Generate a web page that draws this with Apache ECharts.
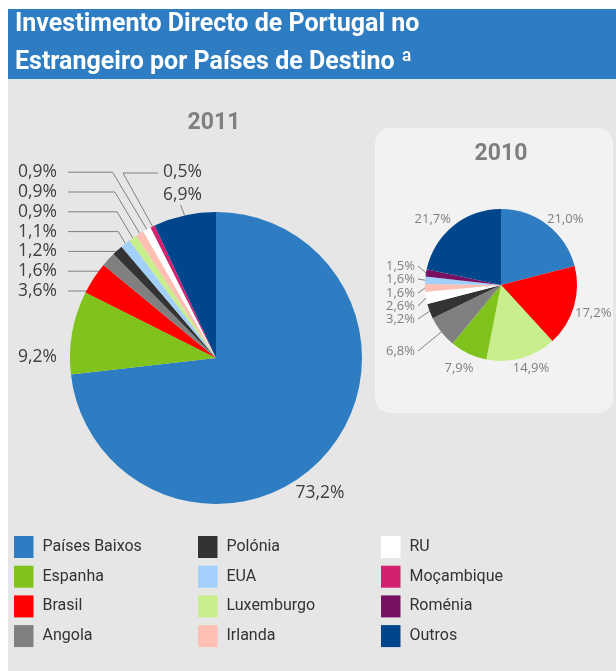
<!DOCTYPE html>
<html>
<head>
<meta charset="utf-8">
<script src="https://cdn.jsdelivr.net/npm/echarts@6/dist/echarts.min.js"></script>
<style>
  html, body { margin: 0; padding: 0; background: #fff; }
  #chart { width: 616px; height: 671px; }
</style>
</head>
<body>
<div id="chart"></div>
<script>
// data
const names2011 = ['Países Baixos', 'Espanha', 'Brasil', 'Angola', 'Polónia', 'EUA',
    'Luxemburgo', 'Irlanda', 'RU', 'Moçambique', 'Outros'];
const values2011 = [73.2, 9.2, 3.6, 1.6, 1.2, 1.1, 0.9, 0.9, 0.9, 0.5, 6.9];

const names2010 = ['Países Baixos', 'Brasil', 'Luxemburgo', 'Espanha', 'Angola', 'Polónia',
    'RU', 'Irlanda', 'EUA', 'Roménia', 'Outros'];
const values2010 = [21.0, 17.2, 14.9, 7.9, 6.8, 3.2, 2.6, 1.6, 1.6, 1.5, 21.7];

const legendCol1 = ['Países Baixos', 'Espanha', 'Brasil', 'Angola'];
const legendCol2 = ['Polónia', 'EUA', 'Luxemburgo', 'Irlanda'];
const legendCol3 = ['RU', 'Moçambique', 'Roménia', 'Outros'];

// styles
const colors = {
    'Países Baixos': '#2e7cc2',
    'Espanha': '#7fc31c',
    'Brasil': '#ff0000',
    'Angola': '#808080',
    'Polónia': '#333333',
    'EUA': '#a3d0fb',
    'Luxemburgo': '#c8ef8c',
    'Irlanda': '#ffbfb3',
    'RU': '#ffffff',
    'Moçambique': '#d4216f',
    'Roménia': '#781164',
    'Outros': '#00468c'
};
const FONT = 'Roboto, "Noto Sans", sans-serif';
const LABEL_FONT = '"Open Sans", "Noto Sans", sans-serif';

const chart = echarts.init(document.getElementById('chart'));

function buildData(names, values) {
    return names.map(function (n, i) {
        return { name: n, value: values[i], itemStyle: { color: colors[n] } };
    });
}

function pct(p) {
    return p.value.toFixed(1).replace('.', ',') + '%';
}

// label placement for 2011 (big pie)
function layout2011(p) {
    const i = p.dataIndex;
    const e = p.labelLinePoints ? p.labelLinePoints[0] : [0, 0];
    const none = [e, e, e];
    if (i === 0) return { x: 320, y: 493, align: 'center', verticalAlign: 'middle', labelLinePoints: none };
    if (i === 1) return { x: 57, y: 357, align: 'right', verticalAlign: 'middle', labelLinePoints: none };
    if (i === 9) return { x: 163, y: 172, align: 'left', verticalAlign: 'middle', labelLinePoints: [e, [123, 173], [158, 173]] };
    if (i === 10) return { x: 163, y: 195, align: 'left', verticalAlign: 'middle', labelLinePoints: [e, [e[0] - 4, 205], [e[0] - 4, 205]] };
    const y = 291 - (i - 2) * 19.8;
    const elbow = Math.max(80, e[0] - (e[1] - y) * 0.6);
    return { x: 57, y: y, align: 'right', verticalAlign: 'middle', labelLinePoints: [e, [elbow, y], [68, y]] };
}

// label placement for 2010 (small pie)
function layout2010(p) {
    const i = p.dataIndex;
    const e = p.labelLinePoints ? p.labelLinePoints[0] : [0, 0];
    const none = [e, e, e];
    if (i === 0) return { x: 547, y: 219, align: 'left', verticalAlign: 'middle', labelLinePoints: none };
    if (i === 1) return { x: 575, y: 313, align: 'left', verticalAlign: 'middle', labelLinePoints: none };
    if (i === 2) return { x: 531, y: 368, align: 'center', verticalAlign: 'middle', labelLinePoints: none };
    if (i === 3) return { x: 459, y: 368, align: 'center', verticalAlign: 'middle', labelLinePoints: none };
    if (i === 10) return { x: 451, y: 219, align: 'right', verticalAlign: 'middle', labelLinePoints: none };
    const ys = { 4: 351, 5: 319, 6: 306, 7: 293, 8: 279, 9: 266 };
    const y = ys[i];
    return { x: 415, y: y, align: 'right', verticalAlign: 'middle', labelLinePoints: [e, [418, y], [418, y]] };
}

function legendCol(data, left) {
    return {
        data: data,
        orient: 'vertical',
        left: left,
        top: 536,
        icon: 'rect',
        itemWidth: 19.5,
        itemHeight: 22,
        itemGap: 7.7,
        selectedMode: false,
        padding: 0,
        textStyle: { fontSize: 16, color: '#333333', fontFamily: FONT, padding: [0, 0, 0, 4] }
    };
}

const option = {
    backgroundColor: '#ffffff',
    animation: false,
    title: [
        {
            text: 'Investimento Directo de Portugal no\nEstrangeiro por Países de Destino ª',
            left: 15, top: 6, padding: 0,
            textStyle: { color: '#ffffff', fontSize: 25, fontWeight: 'bold', lineHeight: 38, fontFamily: FONT }
        },
        {
            text: '2011', left: 214, top: 112, textAlign: 'center', padding: 0,
            textStyle: { color: '#7f7f7f', fontSize: 23, fontWeight: 'bold', fontFamily: FONT }
        },
        {
            text: '2010', left: 501, top: 143, textAlign: 'center', padding: 0,
            textStyle: { color: '#7f7f7f', fontSize: 23, fontWeight: 'bold', fontFamily: FONT }
        }
    ],
    graphic: [
        { type: 'rect', shape: { x: 8, y: 9, width: 608, height: 70 }, style: { fill: '#2e7cc2' }, z: -10 },
        { type: 'rect', shape: { x: 8, y: 79, width: 608, height: 592 }, style: { fill: '#e6e6e6' }, z: -10 },
        { type: 'rect', shape: { x: 375, y: 128, width: 238, height: 285, r: 15 }, style: { fill: '#f2f2f2' }, z: -9 }
    ],
    legend: [legendCol(legendCol1, 14), legendCol(legendCol2, 198), legendCol(legendCol3, 381)],
    series: [
        {
            name: '2011',
            type: 'pie',
            center: [216, 358],
            radius: 146,
            startAngle: 90,
            clockwise: true,
            avoidLabelOverlap: false,
            emphasis: { disabled: true },
            data: buildData(names2011, values2011),
            label: { show: true, position: 'outside', formatter: pct, fontSize: 17.5, color: '#404040', fontFamily: LABEL_FONT },
            labelLine: { show: true, length: 10, length2: 10, lineStyle: { color: '#808080', width: 1 } },
            labelLayout: layout2011
        },
        {
            name: '2010',
            type: 'pie',
            center: [501, 285],
            radius: 76,
            startAngle: 90,
            clockwise: true,
            avoidLabelOverlap: false,
            emphasis: { disabled: true },
            data: buildData(names2010, values2010),
            label: { show: true, position: 'outside', formatter: pct, fontSize: 13, color: '#7f7f7f', fontFamily: LABEL_FONT },
            labelLine: { show: true, length: 5, length2: 5, lineStyle: { color: '#7f7f7f', width: 1 } },
            labelLayout: layout2010
        }
    ]
};

option && chart.setOption(option);
</script>
</body>
</html>
